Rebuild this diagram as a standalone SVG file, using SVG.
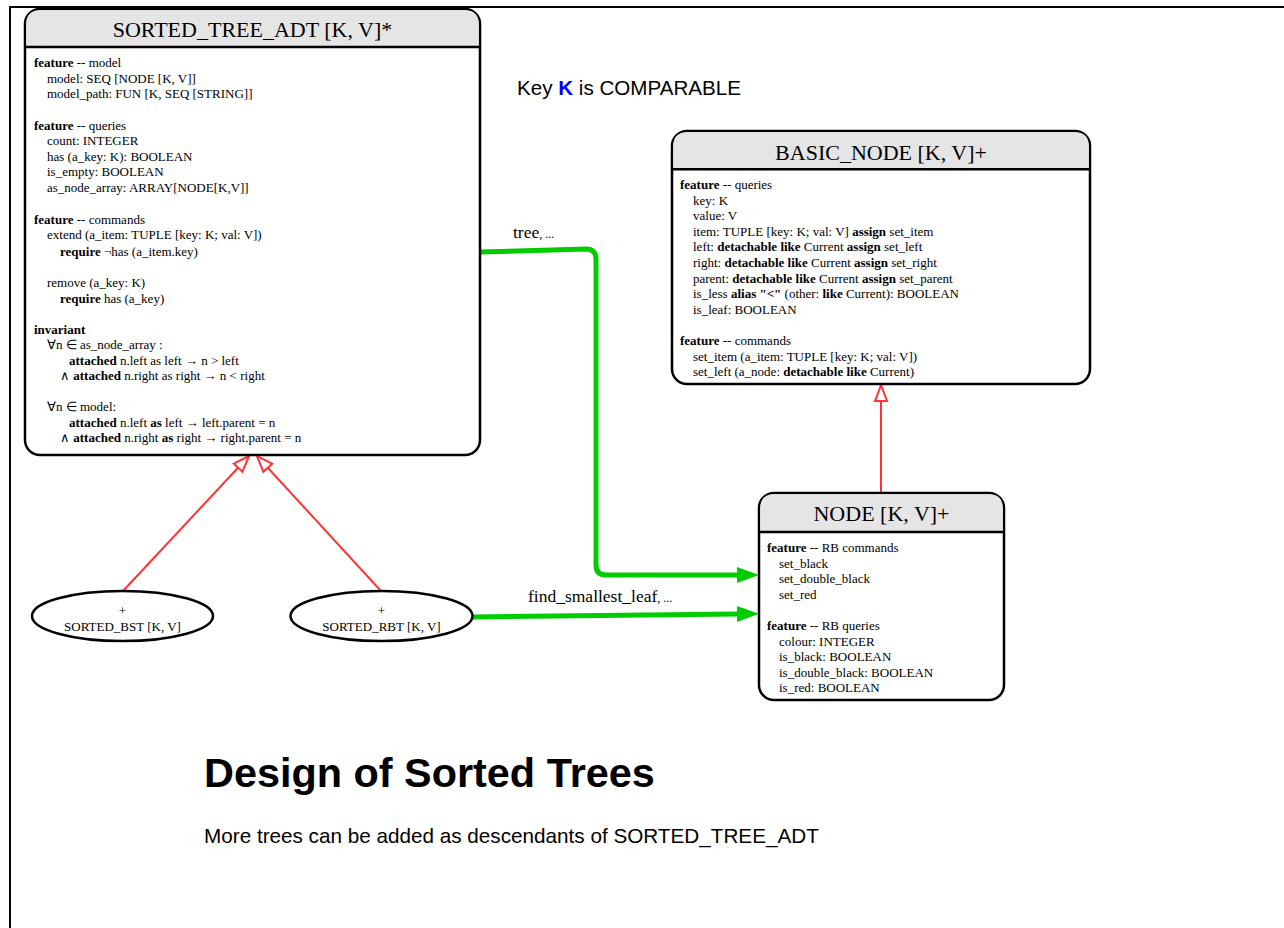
<svg xmlns="http://www.w3.org/2000/svg" width="1284" height="928" viewBox="0 0 1284 928">
  <style>
    .box { fill: #ffffff; stroke: #000000; stroke-width: 2.5; }
    .hdr { fill: #e5e5e5; }
    .sep { stroke: #000000; stroke-width: 2.5; }
    .title { font-family: "Liberation Serif", "Times New Roman", serif; font-size: 22px; fill: #000; text-anchor: middle; }
    .body { font-family: "Liberation Serif", "Times New Roman", serif; font-size: 13px; fill: #000; }
    .b { font-weight: bold; }
    .oval { fill: #ffffff; stroke: #000000; stroke-width: 2.5; }
    .otext { font-family: "Liberation Serif", "Times New Roman", serif; font-size: 13px; fill: #000; text-anchor: middle; }
    .inherit { fill: none; stroke: #ff3333; stroke-width: 2; marker-end: url(#hollow); }
    .client { fill: none; stroke: #00cc00; stroke-width: 5; marker-end: url(#solid); }
    .lbl { font-family: "Liberation Serif", "Times New Roman", serif; font-size: 17.5px; fill: #000; }
    .small { font-size: 12px; }
    .sans { font-family: "Liberation Sans", Arial, sans-serif; fill: #000; }
  </style>
  <defs>
    <marker id="hollow" markerUnits="userSpaceOnUse" markerWidth="20" markerHeight="16" refX="17" refY="7" orient="auto" overflow="visible">
      <path d="M1,1 L17,7 L1,13 Z" fill="#ffffff" stroke="#ff3333" stroke-width="2"/>
    </marker>
    <marker id="solid" markerUnits="userSpaceOnUse" markerWidth="24" markerHeight="18" refX="0" refY="8" orient="auto" overflow="visible">
      <path d="M0,0 L22,8 L0,16 Z" fill="#00cc00"/>
    </marker>
  </defs>

  <!-- page frame -->
  <g id="frame">
    <line x1="9" y1="7" x2="1284" y2="7" stroke="#000" stroke-width="2"/>
    <line x1="10" y1="6" x2="10" y2="928" stroke="#000" stroke-width="2"/>
  </g>

  <!-- connectors -->
  <g id="connectors">
    <line class="inherit" x1="123" y1="591" x2="249" y2="456"/>
    <line class="inherit" x1="381" y1="591" x2="257" y2="456"/>
    <line class="inherit" x1="881" y1="492" x2="881" y2="385"/>
    <path class="client" d="M480,252 L586,249 Q596,249 596,259 L596,565 Q596,575 606,575 L737,575"/>
    <path class="client" d="M473,617 L737,614"/>
    <text class="lbl" x="513" y="238">tree<tspan class="small">, ...</tspan></text>
    <text class="lbl" x="528" y="602">find_smallest_leaf<tspan class="small">, ...</tspan></text>
  </g>

  <!-- deferred class SORTED_TREE_ADT -->
  <g id="sorted_tree_adt">
    <rect class="box" x="25" y="9" width="455" height="446" rx="15" ry="15"/>
    <path class="hdr" d="M26.3,47 L26.3,24 Q26.3,10.3 40,10.3 L465,10.3 Q478.7,10.3 478.7,24 L478.7,47 Z"/>
    <line class="sep" x1="25" y1="47" x2="480" y2="47"/>
    <text class="title" x="252.5" y="37">SORTED_TREE_ADT [K, V]*</text>
    <text class="body" x="34" y="67"><tspan class="b">feature</tspan> -- model</text>
    <text class="body" x="47" y="82.6">model: SEQ [NODE [K, V]]</text>
    <text class="body" x="47" y="98.2">model_path: FUN [K, SEQ [STRING]]</text>
    <text class="body" x="34" y="129.5"><tspan class="b">feature</tspan> -- queries</text>
    <text class="body" x="47" y="145.1">count: INTEGER</text>
    <text class="body" x="47" y="160.7">has (a_key: K): BOOLEAN</text>
    <text class="body" x="47" y="176.3">is_empty: BOOLEAN</text>
    <text class="body" x="47" y="191.9">as_node_array: ARRAY[NODE[K,V]]</text>
    <text class="body" x="34" y="223.6"><tspan class="b">feature</tspan> -- commands</text>
    <text class="body" x="47" y="239.2">extend (a_item: TUPLE [key: K; val: V])</text>
    <text class="body" x="60" y="255.8"><tspan class="b">require</tspan>  ¬has (a_item.key)</text>
    <text class="body" x="47" y="287">remove (a_key: K)</text>
    <text class="body" x="60" y="302.6"><tspan class="b">require</tspan> has (a_key)</text>
    <text class="body" x="34" y="333.5"><tspan class="b">invariant</tspan></text>
    <text class="body" x="47" y="349">∀n ∈ as_node_array :</text>
    <text class="body" x="69" y="364.7"><tspan class="b">attached</tspan> n.left as left → n &gt; left</text>
    <text class="body" x="60" y="380.3">∧ <tspan class="b">attached</tspan> n.right as right → n &lt; right</text>
    <text class="body" x="47" y="411">∀n ∈ model:</text>
    <text class="body" x="69" y="426.6"><tspan class="b">attached</tspan> n.left <tspan class="b">as</tspan> left → left.parent = n</text>
    <text class="body" x="60" y="442.2">∧ <tspan class="b">attached</tspan> n.right <tspan class="b">as</tspan> right → right.parent = n</text>
  </g>

  <!-- effective classes -->
  <g id="sorted_bst">
    <ellipse class="oval" cx="122.5" cy="616" rx="90.5" ry="25"/>
    <text class="otext" x="122.5" y="614.5">+</text>
    <text class="otext" x="122.5" y="630.5">SORTED_BST [K, V]</text>
  </g>
  <g id="sorted_rbt">
    <ellipse class="oval" cx="381.5" cy="616" rx="91" ry="25"/>
    <text class="otext" x="381.5" y="614.5">+</text>
    <text class="otext" x="381.5" y="630.5">SORTED_RBT [K, V]</text>
  </g>

  <!-- BASIC_NODE -->
  <g id="basic_node">
    <rect class="box" x="672" y="131" width="418" height="253" rx="15" ry="15"/>
    <path class="hdr" d="M673.3,169 L673.3,146 Q673.3,132.3 687,132.3 L1075,132.3 Q1088.7,132.3 1088.7,146 L1088.7,169 Z"/>
    <line class="sep" x1="672" y1="169.3" x2="1090" y2="169.3"/>
    <text class="title" x="881" y="159.5">BASIC_NODE [K, V]+</text>
    <text class="body" x="680" y="189"><tspan class="b">feature</tspan> -- queries</text>
    <text class="body" x="693" y="204.6">key: K</text>
    <text class="body" x="693" y="220.2">value: V</text>
    <text class="body" x="693" y="235.8">item: TUPLE [key: K; val: V] <tspan class="b">assign</tspan> set_item</text>
    <text class="body" x="693" y="251.4">left: <tspan class="b">detachable like</tspan> Current <tspan class="b">assign</tspan> set_left</text>
    <text class="body" x="693" y="267">right: <tspan class="b">detachable like</tspan> Current <tspan class="b">assign</tspan> set_right</text>
    <text class="body" x="693" y="282.6">parent: <tspan class="b">detachable like</tspan> Current <tspan class="b">assign</tspan> set_parent</text>
    <text class="body" x="693" y="298.2">is_less <tspan class="b">alias "&lt;"</tspan> (other: <tspan class="b">like</tspan> Current): BOOLEAN</text>
    <text class="body" x="693" y="313.8">is_leaf: BOOLEAN</text>
    <text class="body" x="680" y="345"><tspan class="b">feature</tspan> -- commands</text>
    <text class="body" x="693" y="360.6">set_item (a_item: TUPLE [key: K; val: V])</text>
    <text class="body" x="693" y="376.2">set_left (a_node: <tspan class="b">detachable like</tspan> Current)</text>
  </g>

  <!-- NODE -->
  <g id="node">
    <rect class="box" x="759" y="493" width="245" height="207" rx="15" ry="15"/>
    <path class="hdr" d="M760.3,532 L760.3,508 Q760.3,494.3 774,494.3 L989,494.3 Q1002.7,494.3 1002.7,508 L1002.7,532 Z"/>
    <line class="sep" x1="759" y1="532" x2="1004" y2="532"/>
    <text class="title" x="881.5" y="521">NODE [K, V]+</text>
    <text class="body" x="767" y="552"><tspan class="b">feature</tspan> -- RB commands</text>
    <text class="body" x="779" y="567.6">set_black</text>
    <text class="body" x="779" y="583.2">set_double_black</text>
    <text class="body" x="779" y="598.8">set_red</text>
    <text class="body" x="767" y="630"><tspan class="b">feature</tspan> -- RB queries</text>
    <text class="body" x="779" y="645.6">colour: INTEGER</text>
    <text class="body" x="779" y="661.2">is_black: BOOLEAN</text>
    <text class="body" x="779" y="676.8">is_double_black: BOOLEAN</text>
    <text class="body" x="779" y="692.4">is_red: BOOLEAN</text>
  </g>

  <!-- notes -->
  <g id="notes">
    <text class="sans" x="517" y="95" font-size="20.6">Key <tspan font-weight="bold" fill="#0000ff">K</tspan> is COMPARABLE</text>
    <text class="sans" x="204" y="787" font-size="41.4" font-weight="bold">Design of Sorted Trees</text>
    <text class="sans" x="204" y="843" font-size="20.7">More trees can be added as descendants of SORTED_TREE_ADT</text>
  </g>
</svg>
